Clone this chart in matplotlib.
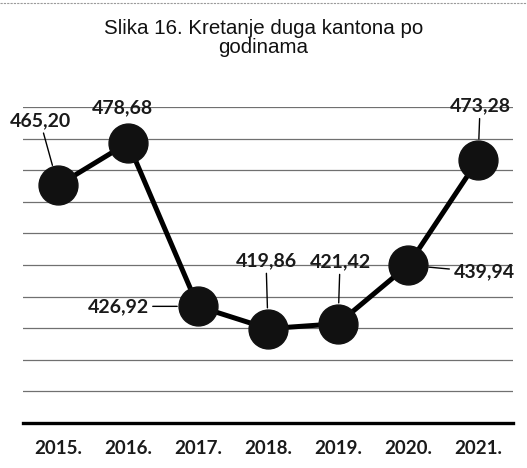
import matplotlib.pyplot as plt
from matplotlib.lines import Line2D

# data
years = ['2015.', '2016.', '2017.', '2018.', '2019.', '2020.', '2021.']
debt = [465.20, 478.68, 426.92, 419.86, 421.42, 439.94, 473.28]
value_labels = ['465,20', '478,68', '426,92', '419,86', '421,42', '439,94', '473,28']
# label offsets in pixels and whether a leader line is drawn
label_offsets = [(-18, 65), (-6, 35), (-80, 0), (-2, 68), (2, 62), (76, -7), (2, 54)]
leaders = [True, False, True, True, True, True, True]

title = 'Slika 16. Kretanje duga kantona po\ngodinama'
y_min, y_max, y_step = 390, 490, 10

fig = plt.figure(figsize=(5.27, 4.68), dpi=100)
ax = fig.add_axes([0.0436, 0.0962, 0.930, 0.675])

x = list(range(len(years)))

# gridlines
for g in range(y_min + y_step, y_max + 1, y_step):
    ax.axhline(g, color='#707070', lw=0.9, zorder=1)

ax.plot(x, debt, color='black', lw=3.6, marker='o', markersize=28,
        markerfacecolor='#111111', markeredgecolor='#111111', zorder=3)

for xi, v, lab, off, lead in zip(x, debt, value_labels, label_offsets, leaders):
    props = None
    if lead:
        props = dict(arrowstyle='-', color='black', lw=1.0, shrinkA=1, shrinkB=15)
    ax.annotate(lab, xy=(xi, v), xytext=off, textcoords='offset pixels',
                ha='center', va='center', fontsize=14, fontweight='bold',
                family='Lato', color='#1a1a1a', arrowprops=props, zorder=4)

ax.set_xlim(-0.5, len(years) - 0.5)
ax.set_ylim(y_min, y_max)
ax.set_xticks(x)
ax.set_xticklabels(years, family='Lato', fontsize=13.5, fontweight='bold', color='#1a1a1a')
ax.set_yticks([])
ax.tick_params(axis='x', length=0, pad=12)
for side in ['top', 'left', 'right']:
    ax.spines[side].set_visible(False)
ax.spines['bottom'].set_linewidth(2.4)
ax.spines['bottom'].set_color('black')

fig.text(0.5, 0.919, title, ha='center', va='center', fontsize=14.8,
         family='Liberation Sans', color='#111111', linespacing=0.95)

# faint scanned frame edge at top
fig.add_artist(Line2D([0.0, 1.0], [0.993, 0.993], transform=fig.transFigure,
                      color='#9a9a9a', lw=0.8, ls=(0, (2, 1))))

fig.savefig('out.png', dpi=100, facecolor='white')
